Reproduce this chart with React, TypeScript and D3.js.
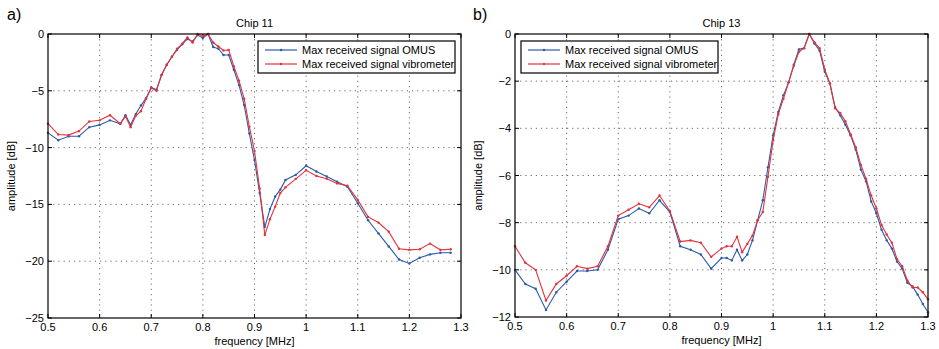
import React from "react";
import * as d3 from "d3";

const freq11 = [0.5, 0.52, 0.54, 0.56, 0.58, 0.6, 0.62, 0.64, 0.65, 0.66, 0.67, 0.68, 0.69, 0.7, 0.71, 0.72, 0.73, 0.74, 0.75, 0.76, 0.77, 0.78, 0.79, 0.8, 0.81, 0.82, 0.83, 0.84, 0.85, 0.86, 0.87, 0.88, 0.89, 0.9, 0.91, 0.92, 0.93, 0.94, 0.95, 0.96, 0.98, 1.0, 1.02, 1.04, 1.06, 1.08, 1.1, 1.12, 1.14, 1.16, 1.18, 1.2, 1.22, 1.24, 1.26, 1.28];
const omus11 = [-8.7, -9.35, -9.0, -9.0, -8.2, -8.0, -7.6, -7.9, -7.15, -8.0, -7.05, -6.3, -5.65, -4.7, -4.9, -3.6, -2.7, -2.0, -1.4, -0.9, -0.45, -0.65, -0.1, -0.35, 0, -1.15, -1.3, -1.85, -1.85, -3.15, -4.5, -6.25, -8.75, -11.1, -14.0, -17.0, -15.4, -14.3, -13.7, -12.85, -12.4, -11.6, -12.1, -12.55, -13.0, -13.45, -14.9, -16.4, -17.55, -18.7, -19.85, -20.2, -19.7, -19.4, -19.25, -19.25];
const vib11 = [-7.9, -8.85, -8.9, -8.55, -7.7, -7.6, -7.15, -7.9, -7.25, -8.2, -7.2, -6.8, -5.7, -4.75, -5.0, -3.6, -2.7, -2.0, -1.3, -0.85, -0.3, -0.75, 0, -0.2, 0, -0.75, -1.1, -1.45, -1.4, -2.85, -4.1, -5.7, -8.15, -10.3, -13.6, -17.7, -16.3, -15.2, -14.0, -13.5, -12.75, -12.0, -12.5, -12.75, -13.15, -13.35, -14.6, -16.1, -16.6, -17.4, -18.9, -19.0, -18.95, -18.45, -19.0, -18.95];

const freq13 = [0.5, 0.52, 0.54, 0.56, 0.58, 0.6, 0.62, 0.64, 0.66, 0.68, 0.7, 0.72, 0.74, 0.76, 0.78, 0.8, 0.82, 0.84, 0.86, 0.88, 0.9, 0.91, 0.92, 0.93, 0.94, 0.95, 0.96, 0.97, 0.98, 0.99, 1.0, 1.01, 1.02, 1.03, 1.04, 1.05, 1.06, 1.07, 1.08, 1.09, 1.1, 1.11, 1.12, 1.13, 1.14, 1.15, 1.16, 1.17, 1.18, 1.19, 1.2, 1.21, 1.22, 1.23, 1.24, 1.25, 1.26, 1.27, 1.28, 1.29, 1.3];
const omus13 = [-10.0, -10.6, -10.8, -11.7, -10.95, -10.5, -10.05, -10.05, -10.0, -9.15, -7.85, -7.7, -7.4, -7.6, -7.05, -7.55, -9.0, -9.15, -9.35, -9.95, -9.5, -9.5, -9.6, -9.15, -9.6, -9.35, -8.75, -7.9, -7.05, -5.65, -4.3, -3.3, -2.6, -2.05, -1.3, -0.65, -0.6, 0, -0.4, -0.7, -1.6, -2.1, -3.1, -3.45, -3.85, -4.3, -4.9, -5.75, -6.25, -7.1, -7.6, -8.3, -8.75, -9.1, -9.65, -9.95, -10.55, -10.7, -11.05, -11.45, -11.8];
const vib13 = [-9.0, -9.7, -10.0, -11.3, -10.6, -10.25, -9.85, -9.95, -9.85, -9.0, -7.7, -7.45, -7.2, -7.35, -6.85, -7.5, -8.8, -8.75, -8.85, -9.45, -9.1, -9.0, -9.0, -8.6, -9.25, -8.9, -8.55, -7.9, -7.55, -6.05, -4.5, -3.4, -2.75, -2.05, -1.35, -0.75, -0.6, 0, -0.35, -0.6, -1.5, -2.1, -3.15, -3.35, -3.7, -4.25, -4.8, -5.55, -6.15, -6.85, -7.4, -8.1, -8.5, -8.85, -9.55, -9.85, -10.45, -10.75, -10.75, -10.95, -11.25];

const xTicks = [0.5, 0.6, 0.7, 0.8, 0.9, 1, 1.1, 1.2, 1.3];
const yTicks11 = [0, -5, -10, -15, -20, -25];
const yTicks13 = [0, -2, -4, -6, -8, -10, -12];
const seriesNames = ["Max received signal OMUS", "Max received signal vibrometer"];
const titles = ["Chip 11", "Chip 13"];
const panelLabels = ["a)", "b)"];

const BLUE = "#2a5ba8";
const RED = "#e6313a";
const FONT = "'Liberation Sans', Arial, sans-serif";

function fmt(v: number) {
  const s = String(Math.abs(v));
  return v < 0 ? "\u2212" + s : s;
}

type PanelProps = {
  left: number; top: number; width: number; height: number;
  freq: number[]; a: number[]; b: number[];
  yMin: number; yTicks: number[]; title: string; label: string;
  legendX: number; legendW: number;
};

function Panel(p: PanelProps) {
  const x = d3.scaleLinear().domain([0.5, 1.3]).range([p.left, p.left + p.width]);
  const y = d3.scaleLinear().domain([p.yMin, 0]).range([p.top + p.height, p.top]);
  const line = d3.line<number>().x((_, i) => x(p.freq[i])).y((d) => y(d));
  const tl = 4;
  const grid = "1.2,4";
  const x0 = p.left, x1 = p.left + p.width, y0 = p.top, y1 = p.top + p.height;
  const ly = p.top + 7;
  return (
    <g fontFamily={FONT}>
      <text x={p.label === "a)" ? 7 : 473} y={20} fontSize={16}>{p.label}</text>
      <text x={(x0 + x1) / 2} y={y0 - 7} fontSize={11} textAnchor="middle">{p.title}</text>
      {xTicks.map((t) => (
        <g key={"x" + t}>
          {t > 0.5 && t < 1.3 && (
            <line x1={x(t)} x2={x(t)} y1={y0} y2={y1} stroke="#444" strokeWidth={0.8} strokeDasharray={grid} />
          )}
          <line x1={x(t)} x2={x(t)} y1={y1} y2={y1 - tl} stroke="#000" />
          <line x1={x(t)} x2={x(t)} y1={y0} y2={y0 + tl} stroke="#000" />
          <text x={x(t)} y={y1 + 13} fontSize={11} textAnchor="middle">{String(t)}</text>
        </g>
      ))}
      {p.yTicks.map((t) => (
        <g key={"y" + t}>
          {t > p.yMin && t < 0 && (
            <line x1={x0} x2={x1} y1={y(t)} y2={y(t)} stroke="#444" strokeWidth={0.8} strokeDasharray={grid} />
          )}
          <line x1={x0} x2={x0 + tl} y1={y(t)} y2={y(t)} stroke="#000" />
          <line x1={x1} x2={x1 - tl} y1={y(t)} y2={y(t)} stroke="#000" />
          <text x={x0 - 4} y={y(t) + 4} fontSize={11} textAnchor="end">{fmt(t)}</text>
        </g>
      ))}
      <path d={line(p.a) || ""} fill="none" stroke={BLUE} strokeWidth={1.1} />
      {p.a.map((v, i) => (
        <circle key={"a" + i} cx={x(p.freq[i])} cy={y(v)} r={1.2} fill={BLUE} />
      ))}
      <path d={line(p.b) || ""} fill="none" stroke={RED} strokeWidth={1.1} />
      {p.b.map((v, i) => (
        <circle key={"b" + i} cx={x(p.freq[i])} cy={y(v)} r={1.2} fill={RED} />
      ))}
      <rect x={x0} y={y0} width={p.width} height={p.height} fill="none" stroke="#000" strokeWidth={1.2} />
      <rect x={p.legendX} y={ly} width={p.legendW} height={32} fill="#fff" stroke="#000" strokeWidth={1.2} />
      {[BLUE, RED].map((c, i) => (
        <g key={"l" + i}>
          <line x1={p.legendX + 7} x2={p.legendX + 39} y1={ly + 9 + i * 14} y2={ly + 9 + i * 14} stroke={c} strokeWidth={1.2} />
          <circle cx={p.legendX + 23} cy={ly + 9 + i * 14} r={1.2} fill={c} />
          <text x={p.legendX + 44} y={ly + 13 + i * 14} fontSize={11}>{seriesNames[i]}</text>
        </g>
      ))}
      <text x={(x0 + x1) / 2} y={y1 + 27} fontSize={11} textAnchor="middle">frequency [MHz]</text>
      <text transform={`translate(${p.left - 33},${(y0 + y1) / 2}) rotate(-90)`} fontSize={11} textAnchor="middle">amplitude [dB]</text>
    </g>
  );
}

export default function App() {
  return (
    <svg width={939} height={349} style={{ position: "absolute", left: 0, top: 0, background: "#fff" }}>
      <rect width={939} height={349} fill="#fff" />
      <Panel left={48} top={34} width={413} height={284} freq={freq11} a={omus11} b={vib11}
        yMin={-25} yTicks={yTicks11} title={titles[0]} label={panelLabels[0]} legendX={258} legendW={197} />
      <Panel left={515} top={34} width={413} height={283} freq={freq13} a={omus13} b={vib13}
        yMin={-12} yTicks={yTicks13} title={titles[1]} label={panelLabels[1]} legendX={521} legendW={197} />
    </svg>
  );
}
